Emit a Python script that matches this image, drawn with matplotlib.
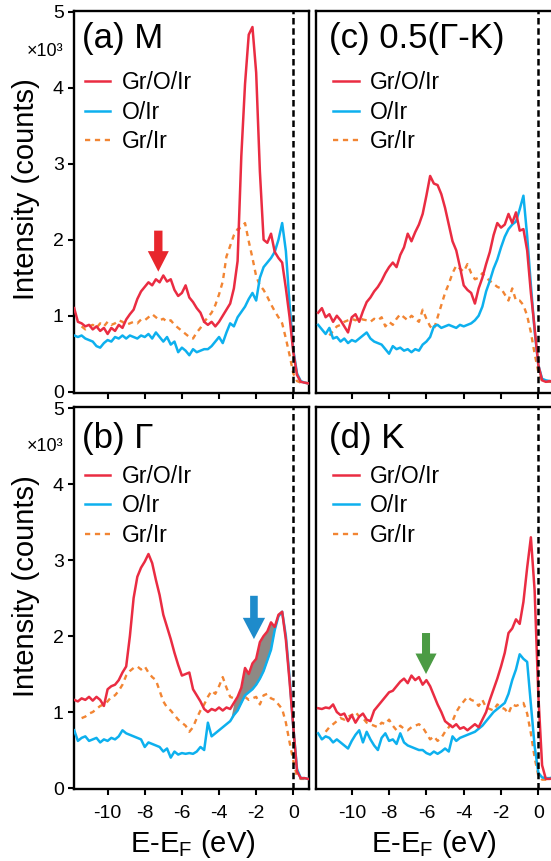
import numpy as np
import matplotlib
matplotlib.use("Agg")
import matplotlib.pyplot as plt
from matplotlib.patches import FancyArrow
from matplotlib.lines import Line2D

plt.rcParams['font.family'] = ['Liberation Sans', 'DejaVu Sans']
plt.rcParams['mathtext.fontset'] = 'custom'
plt.rcParams['mathtext.rm'] = 'Liberation Sans'
plt.rcParams['mathtext.default'] = 'regular'
plt.rcParams['axes.unicode_minus'] = False

nan = np.nan
# binding energy grid (eV), step 0.2 from -11.8 to 0.8
energy = np.round(np.arange(-11.8, 0.81, 0.2), 1)

# ---------------- (a) M ----------------
a_grOIr = [1.10, 0.92, 0.90, 0.86, 0.88, 0.82, 0.86, 0.80,
           0.84, 0.76, 0.84, 0.80, 0.88, 0.84, 0.95, 1.02,
           1.08, 1.22, 1.32, 1.38, 1.44, 1.40, 1.48, 1.44,
           1.53, 1.45, 1.48, 1.34, 1.26, 1.30, 1.40, 1.24,
           1.18, 1.10, 1.04, 0.92, 0.88, 0.92, 0.86, 0.92,
           1.00, 1.08, 1.16, 1.36, 1.72, 3.10, 4.05, 4.70,
           4.80, 4.20, 2.90, 2.00, 1.96, 2.08, 1.84, 1.76,
           1.70, 1.36, 0.98, 0.52, 0.22, 0.13, 0.12, 0.11]
a_OIr = [0.74, 0.72, 0.74, 0.70, 0.68, 0.66, 0.60, 0.58,
         0.64, 0.68, 0.66, 0.72, 0.70, 0.74, 0.70, 0.74,
         0.72, 0.70, 0.74, 0.72, 0.76, 0.70, 0.78, 0.72,
         0.66, 0.72, 0.62, 0.66, 0.52, 0.58, 0.54, 0.48,
         0.56, 0.52, 0.54, 0.56, 0.56, 0.60, 0.66, 0.72,
         0.64, 0.78, 0.90, 0.86, 0.98, 1.05, 1.12, 1.22,
         1.30, 1.20, 1.50, 1.64, 1.70, 1.76, 1.84, 2.00,
         2.22, 1.85, 1.15, 0.55, 0.24, 0.14, 0.12, 0.11]
a_grIr = [nan, nan, 0.86, 0.82, 0.86, 0.88, 0.84, 0.90,
          0.86, 0.92, 0.88, 0.90, 0.94, 0.92, 0.88, 0.90,
          0.92, 0.90, 0.95, 0.94, 0.98, 1.02, 0.98, 0.94,
          0.96, 0.92, 0.94, 0.88, 0.84, 0.80, 0.76, 0.72,
          0.70, 0.78, 0.84, 0.92, 0.98, 1.04, 1.14, 1.28,
          1.45, 1.78, 1.92, 2.06, 2.14, 2.16, 2.22, 1.98,
          1.76, 1.52, 1.40, 1.34, 1.25, 1.15, 1.06, 0.98,
          0.90, 0.70, 0.48, 0.24, 0.14, 0.12, 0.12, 0.11]

# ---------------- (b) Gamma ----------------
b_grOIr = [1.16, 1.14, 1.18, 1.16, 1.20, 1.15, 1.20, 1.16,
           1.08, 1.30, 1.34, 1.36, 1.42, 1.52, 1.60, 2.00,
           2.50, 2.78, 2.90, 2.98, 3.08, 2.96, 2.74, 2.54,
           2.28, 2.12, 1.96, 1.78, 1.62, 1.48, 1.50, 1.52,
           1.30, 1.22, 1.14, 1.04, 1.00, 1.04, 1.02, 1.06,
           1.02, 1.06, 1.04, 1.12, 1.20, 1.32, 1.58, 1.50,
           1.64, 1.70, 1.92, 2.00, 2.06, 2.18, 2.12, 2.28,
           2.32, 1.95, 1.40, 0.80, 0.22, 0.13, 0.13, 0.12]
b_OIr = [0.76, 0.62, 0.66, 0.68, 0.62, 0.64, 0.66, 0.60,
         0.64, 0.62, 0.66, 0.64, 0.68, 0.76, 0.72, 0.70,
         0.68, 0.66, 0.64, 0.54, 0.60, 0.58, 0.56, 0.54,
         0.48, 0.52, 0.40, 0.48, 0.44, 0.46, 0.45, 0.46,
         0.45, 0.48, 0.54, 0.50, 0.86, 0.68, 0.72, 0.76,
         0.80, 0.84, 0.88, 0.96, 1.02, 1.12, 1.22, 1.26,
         1.30, 1.36, 1.44, 1.54, 1.68, 1.82, 2.08, 2.26,
         2.32, 2.00, 1.45, 0.80, 0.25, 0.13, 0.13, 0.12]
b_grIr = [nan, nan, 0.92, 0.94, 0.98, 1.00, 1.04, 1.08,
          1.10, 1.14, 1.20, 1.22, 1.28, 1.36, 1.48, 1.54,
          1.58, 1.60, 1.56, 1.60, 1.52, 1.46, 1.42, 1.28,
          1.14, 1.06, 1.02, 0.96, 0.90, 0.86, 0.82, 0.74,
          0.80, 0.92, 1.02, 1.10, 1.20, 1.28, 1.24, 1.34,
          1.46, 1.32, 1.20, 1.18, 1.14, 1.16, 1.20, 1.16,
          1.18, 1.20, 1.10, 1.22, 1.24, 1.18, 1.16, 1.10,
          1.04, 0.86, 0.60, 0.36, 0.15, 0.12, 0.12, 0.12]

# ---------------- (c) 0.5(Gamma-K) ----------------
c_grOIr = [1.04, 1.10, 0.98, 1.02, 0.92, 1.00, 0.94, 0.86,
           0.78, 0.98, 1.02, 0.92, 1.06, 1.18, 1.24, 1.32,
           1.38, 1.46, 1.56, 1.64, 1.70, 1.64, 1.80, 1.90,
           2.08, 1.98, 2.10, 2.20, 2.34, 2.58, 2.84, 2.74,
           2.72, 2.60, 2.42, 2.20, 1.98, 1.86, 1.64, 1.40,
           1.34, 1.30, 1.16, 1.36, 1.50, 1.68, 1.84, 2.06,
           2.22, 2.16, 2.20, 2.34, 2.22, 2.36, 2.12, 2.14,
           1.86, 1.30, 0.84, 0.35, 0.15, 0.13, 0.14, 0.13]
c_OIr = [0.88, 0.82, 0.76, 0.84, 0.70, 0.72, 0.66, 0.70,
         0.64, 0.68, 0.66, 0.70, 0.74, 0.78, 0.70, 0.66,
         0.64, 0.62, 0.56, 0.50, 0.60, 0.56, 0.58, 0.54,
         0.56, 0.52, 0.56, 0.54, 0.62, 0.66, 0.72, 0.86,
         0.88, 0.84, 0.86, 0.88, 0.86, 0.84, 0.88, 0.86,
         0.88, 0.90, 0.94, 1.00, 1.12, 1.32, 1.46, 1.62,
         1.74, 1.90, 2.04, 2.14, 2.20, 2.24, 2.40, 2.58,
         2.05, 1.40, 0.80, 0.35, 0.17, 0.15, 0.14, 0.14]
c_grIr = [nan, nan, nan, 0.74, 0.80, 0.86, 0.88, 0.92,
          0.94, 0.96, 0.94, 0.97, 0.95, 0.94, 0.92, 0.96,
          0.94, 0.98, 0.86, 0.92, 0.88, 0.96, 1.02, 0.98,
          0.94, 1.00, 0.96, 0.92, 1.08, 0.96, 0.86, 0.82,
          0.98, 1.14, 1.30, 1.42, 1.56, 1.66, 1.62, 1.58,
          1.68, 1.56, 1.48, 1.50, 1.56, 1.50, 1.46, 1.42,
          1.38, 1.36, 1.28, 1.20, 1.36, 1.20, 1.20, 1.14,
          1.00, 0.78, 0.50, 0.26, 0.14, 0.13, 0.13, 0.13]

# ---------------- (d) K ----------------
d_grOIr = [1.05, 1.04, 1.06, 1.05, 1.10, 1.00, 0.96, 0.98,
           0.88, 0.96, 0.86, 0.94, 0.98, 0.90, 0.88, 1.02,
           1.08, 1.14, 1.20, 1.26, 1.28, 1.34, 1.40, 1.44,
           1.38, 1.48, 1.42, 1.46, 1.36, 1.42, 1.34, 1.22,
           1.10, 1.00, 0.88, 0.84, 0.80, 0.84, 0.78, 0.80,
           0.76, 0.80, 0.84, 0.80, 0.90, 1.00, 1.16, 1.30,
           1.44, 1.60, 1.78, 2.04, 2.10, 2.22, 2.16, 2.45,
           2.90, 3.30, 2.60, 1.22, 0.30, 0.12, 0.12, 0.13]
d_OIr = [0.72, 0.64, 0.68, 0.66, 0.60, 0.64, 0.60, 0.56,
         0.52, 0.62, 0.70, 0.76, 0.60, 0.74, 0.64, 0.56,
         0.50, 0.66, 0.72, 0.62, 0.64, 0.58, 0.72, 0.60,
         0.56, 0.54, 0.52, 0.50, 0.50, 0.46, 0.44, 0.48,
         0.45, 0.48, 0.52, 0.48, 0.68, 0.62, 0.66, 0.68,
         0.70, 0.72, 0.74, 0.78, 0.82, 0.88, 0.94, 1.00,
         1.04, 1.08, 1.12, 1.24, 1.42, 1.56, 1.76, 1.70,
         1.66, 1.10, 0.55, 0.20, 0.14, 0.13, 0.13, 0.14]
d_grIr = [nan, nan, 0.74, 0.80, 0.84, 0.88, 0.92, 0.90,
          0.94, 0.96, 1.00, 0.94, 0.92, 0.86, 0.84, 0.82,
          0.80, 0.86, 0.84, 0.90, 0.82, 0.76, 0.82, 0.78,
          0.76, 0.80, 0.82, 0.84, 0.80, 0.72, 0.64, 0.68,
          0.62, 0.66, 0.74, 0.80, 0.88, 1.00, 1.08, 1.14,
          1.20, 1.16, 1.14, 1.08, 1.16, 1.06, 1.04, 1.02,
          1.10, 1.06, 1.04, 0.98, 1.10, 1.08, 1.10, 1.12,
          0.98, 0.72, 0.40, 0.16, 0.11, 0.11, 0.11, 0.11]

series_labels = ["Gr/O/Ir", "O/Ir", "Gr/Ir"]
panel_titles = ["(a) M", "(b) \u0393", "(c) 0.5(\u0393-K)", "(d) K"]
xticks = [-10, -8, -6, -4, -2, 0]
yticks = [0, 1, 2, 3, 4, 5]

RED = "#EA2C42"
BLUE = "#0DB0EE"
ORANGE = "#F28533"

W, H = 551, 861
fig = plt.figure(figsize=(W / 100, H / 100), dpi=100)
fig.patch.set_facecolor("white")


def px_axes(l, r, t, b):
    return fig.add_axes([l / W, 1 - b / H, (r - l) / W, (b - t) / H])


axA = px_axes(74, 309, 10.7, 392.7)
axC = px_axes(316.3, 560, 10.7, 392.7)
axB = px_axes(74, 309, 407, 789)
axD = px_axes(316.3, 560, 407, 789)

panels = [
    (axA, a_grOIr, a_OIr, a_grIr, panel_titles[0], True, False),
    (axB, b_grOIr, b_OIr, b_grIr, panel_titles[1], True, True),
    (axC, c_grOIr, c_OIr, c_grIr, panel_titles[2], False, False),
    (axD, d_grOIr, d_OIr, d_grIr, panel_titles[3], False, True),
]

for ax, red, blue, orange, title, is_left, is_bottom in panels:
    ax.plot(energy, orange, color=ORANGE, lw=1.7, dashes=(2.2, 2.0), zorder=3)
    ax.plot(energy, blue, color=BLUE, lw=1.8, zorder=4)
    ax.plot(energy, red, color=RED, lw=1.8, zorder=5)
    ax.axvline(0, color="black", lw=1.8, dashes=(2.6, 1.5), zorder=6)

    if is_left:
        ax.set_xlim(-11.81, 0.845)
    else:
        ax.set_xlim(-11.9, 1.16)
    ax.set_ylim(-0.013, 5.015)

    for sp in ax.spines.values():
        sp.set_linewidth(1.7)

    ax.set_xticks(xticks)
    ax.tick_params(axis="x", direction="out", length=4.6, width=1.5,
                   labelsize=14, pad=7, labelbottom=is_bottom)
    if is_left:
        ax.set_yticks(yticks)
        ax.tick_params(axis="y", direction="out", length=4.3, width=1.5,
                       labelsize=14, pad=3)
    else:
        ax.set_yticks([])

    bbox = ax.get_position()
    wpx = bbox.width * W
    hpx = bbox.height * H
    xoff = 8.0 if is_left else 13.0
    ybase = (37.5 if not is_bottom else 41.0)
    ax.text(xoff / wpx, 1 - ybase / hpx, title, transform=ax.transAxes,
            fontsize=25, ha="left", va="baseline")

    handles = [Line2D([], [], color=RED, lw=1.8),
               Line2D([], [], color=BLUE, lw=1.8),
               Line2D([], [], color=ORANGE, lw=1.7, dashes=(2.2, 2.0))]
    lx = (11.0 if is_left else 17.0) / wpx
    ly = 1 - (60.5 if not is_bottom else 58.0) / hpx
    ax.legend(handles, series_labels, loc="upper left", bbox_to_anchor=(lx, ly),
              frameon=False, fontsize=16.5, handlelength=1.1, handletextpad=0.5,
              labelspacing=0.28, borderpad=0, borderaxespad=0)

    if is_bottom:
        cx = (193.0 if is_left else 434.0)
        fig.text(cx / W, 1 - 851.7 / H, "E-E$_F$ (eV)", fontsize=21,
                 ha="center", va="baseline")

# gray shaded difference in (b)
mask = (energy >= -3.3) & (energy <= -0.8)
axB.fill_between(energy, b_OIr, b_grOIr, where=mask, interpolate=True,
                 color="#8E8984", lw=0, zorder=3.5)

# arrows
axA.add_patch(FancyArrow(-7.27, 2.12, 0, -0.54, width=0.45, head_width=1.13,
                         head_length=0.27, length_includes_head=True,
                         color="#E8262C", lw=0, zorder=7))
axB.add_patch(FancyArrow(-2.12, 2.53, 0, -0.57, width=0.41, head_width=1.2,
                         head_length=0.28, length_includes_head=True,
                         color="#1E8BCB", lw=0, zorder=7))
axD.add_patch(FancyArrow(-6.02, 2.04, 0, -0.54, width=0.43, head_width=1.13,
                         head_length=0.27, length_includes_head=True,
                         color="#4B9B44", lw=0, zorder=7))

# y labels and multipliers
for yc, ym in [(189, 51.7), (586, 446.7)]:
    fig.text(26 / W, 1 - yc / H, "Intensity (counts)", rotation=90,
             fontsize=21, ha="center", va="center")
    fig.text(45 / W, 1 - ym / H, "\u00d710\u00b3", fontsize=13,
             ha="center", va="center")

fig.savefig("out.png", dpi=100, facecolor="white")
